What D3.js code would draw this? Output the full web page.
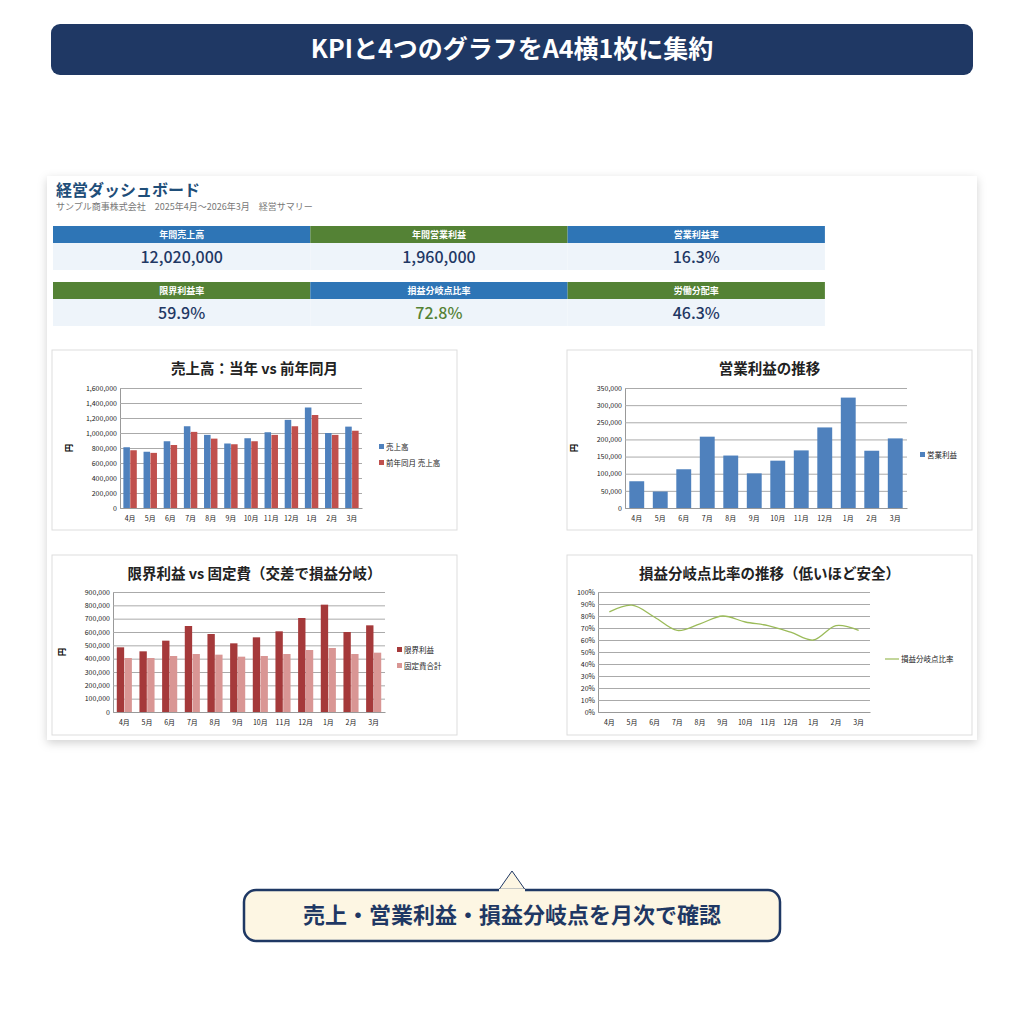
<!DOCTYPE html>
<html>
<head>
<meta charset="utf-8">
<script src="https://cdn.jsdelivr.net/npm/d3@7"></script>
<style>
body{margin:0;background:#fff;font-family:"Noto Sans CJK JP","Noto Sans",sans-serif;}
svg text{font-family:"Noto Sans CJK JP","Noto Sans",sans-serif;}
</style>
</head>
<body>
<svg id="page" width="1024" height="1024"></svg>
<script>
// data
var months = ['4月','5月','6月','7月','8月','9月','10月','11月','12月','1月','2月','3月'];
var sales = [810000,750000,890000,1090000,975000,860000,930000,1010000,1175000,1340000,1000000,1085000];
var salesPrev = [770000,735000,840000,1015000,925000,850000,890000,975000,1090000,1240000,975000,1030000];
var opProfit = [78000,48000,113000,208000,153000,101000,138000,168000,235000,322000,167000,203000];
var marginal = [485000,455000,535000,645000,585000,515000,560000,605000,705000,805000,600000,650000];
var fixedCost = [405000,405000,420000,435000,430000,415000,420000,435000,465000,480000,435000,445000];
var bepRatio = [0.835,0.89,0.79,0.68,0.735,0.80,0.75,0.72,0.665,0.60,0.72,0.68];
var kpiRow1 = [{label:'年間売上高',value:'12,020,000',head:'#2e75b6',col:'#1f3864'},
               {label:'年間営業利益',value:'1,960,000',head:'#548235',col:'#1f3864'},
               {label:'営業利益率',value:'16.3%',head:'#2e75b6',col:'#1f3864'}];
var kpiRow2 = [{label:'限界利益率',value:'59.9%',head:'#548235',col:'#1f3864'},
               {label:'損益分岐点比率',value:'72.8%',head:'#2e75b6',col:'#548235'},
               {label:'労働分配率',value:'46.3%',head:'#548235',col:'#1f3864'}];

var svg = d3.select('#page');
var defs = svg.append('defs');
var f = defs.append('filter').attr('id','sh').attr('x','-5%').attr('y','-5%').attr('width','110%').attr('height','115%');
f.append('feDropShadow').attr('dx',0).attr('dy',3).attr('stdDeviation',5).attr('flood-color','#000').attr('flood-opacity',0.18);

// banner
svg.append('rect').attr('x',51).attr('y',24).attr('width',922).attr('height',51).attr('rx',9).attr('fill','#1f3864');
svg.append('text').attr('x',512).attr('y',58).attr('text-anchor','middle').attr('fill','#fff')
  .attr('font-size',25).attr('font-weight','bold').text('KPIと4つのグラフをA4横1枚に集約');

// dashboard card
svg.append('rect').attr('x',47).attr('y',176).attr('width',930).attr('height',564).attr('fill','#fff').attr('filter','url(#sh)');
svg.append('text').attr('x',56).attr('y',196).attr('fill','#1f4e79').attr('font-size',16).attr('font-weight','bold').text('経営ダッシュボード');
svg.append('text').attr('x',56).attr('y',210).attr('fill','#777').attr('font-size',9).text('サンプル商事株式会社　2025年4月〜2026年3月　経営サマリー');

function kpi(row, y){
  var w = 257.3;
  row.forEach(function(d,i){
    var x = 53 + i*w;
    svg.append('rect').attr('x',x).attr('y',y).attr('width',w).attr('height',17).attr('fill',d.head);
    svg.append('rect').attr('x',x).attr('y',y+17).attr('width',w).attr('height',27).attr('fill','#eef4fa');
    svg.append('text').attr('x',x+w/2).attr('y',y+12).attr('text-anchor','middle').attr('fill','#fff').attr('font-size',9).attr('font-weight','bold').text(d.label);
    svg.append('text').attr('x',x+w/2).attr('y',y+37).attr('text-anchor','middle').attr('fill',d.col).attr('font-size',16).attr('font-weight',500).text(d.value);
  });
}
kpi(kpiRow1,226);
kpi(kpiRow2,282);

function panel(x,y,w,h,title){
  var g = svg.append('g').attr('transform','translate('+x+','+y+')');
  g.append('rect').attr('width',w).attr('height',h).attr('fill','#fff').attr('stroke','#ddd');
  g.append('text').attr('x',w/2).attr('y',24).attr('text-anchor','middle').attr('font-size',14.5).attr('font-weight','bold').attr('fill','#222').text(title);
  return g;
}
function axes(g, px, py, pw, ph, y, fmt, ticks, yLabel){
  var x = d3.scaleBand().domain(months).range([px,px+pw]).paddingInner(0.3).paddingOuter(0.15);
  var gy = g.append('g').attr('transform','translate('+px+',0)').call(d3.axisLeft(y).tickValues(ticks).tickFormat(fmt).tickSize(-pw).tickSizeOuter(0));
  gy.select('.domain').attr('stroke','#999');
  gy.selectAll('.tick line').attr('stroke','#aaa');
  gy.selectAll('text').attr('font-size',7).attr('fill','#222');
  var gx = g.append('g').attr('transform','translate(0,'+(py+ph)+')').call(d3.axisBottom(x).tickSize(0));
  gx.select('.domain').attr('stroke','#999');
  gx.selectAll('text').attr('font-size',7).attr('fill','#222').attr('dy','1.4em');
  if(yLabel) g.append('text').attr('transform','translate('+(px-48)+','+(py+ph/2)+') rotate(-90)').attr('text-anchor','middle').attr('font-size',8).attr('font-weight','bold').text(yLabel);
  return x;
}
function bars(g, x, y, series, colors){
  var xs = d3.scaleBand().domain(d3.range(series.length)).range([0,x.bandwidth()]).padding(0.05);
  series.forEach(function(s,si){
    g.selectAll(null).data(s).enter().append('rect')
      .attr('x',function(d,i){return x(months[i])+xs(si);})
      .attr('y',function(d){return y(d);})
      .attr('width',xs.bandwidth())
      .attr('height',function(d){return y(0)-y(d);})
      .attr('fill',colors[si]);
  });
}
function legend(g, lx, ly, names, colors, line){
  names.forEach(function(n,i){
    var yy = ly + i*16;
    if(line) g.append('line').attr('x1',lx-16).attr('x2',lx-2).attr('y1',yy).attr('y2',yy).attr('stroke',colors[i]).attr('stroke-width',1.2);
    else g.append('rect').attr('x',lx-7).attr('y',yy-3).attr('width',5).attr('height',5).attr('fill',colors[i]);
    g.append('text').attr('x',lx).attr('y',yy+3).attr('font-size',7.5).attr('fill','#222').text(n);
  });
}
var fmtN = d3.format(',');

// chart 1
var g1 = panel(52,350,405,180,'売上高：当年 vs 前年同月');
var y1 = d3.scaleLinear().domain([0,1600000]).range([158,38]);
var x1 = axes(g1,68,38,242,120,y1,fmtN,d3.range(0,1600001,200000),'円');
bars(g1,x1,y1,[sales,salesPrev],['#4f81bd','#c0504d']);
legend(g1,334,97,['売上高','前年同月 売上高'],['#4f81bd','#c0504d']);

// chart 2
var g2 = panel(567,350,405,180,'営業利益の推移');
var y2 = d3.scaleLinear().domain([0,350000]).range([158,38]);
var x2 = axes(g2,58,38,282,120,y2,fmtN,d3.range(0,350001,50000),'円');
bars(g2,x2,y2,[opProfit],['#4f81bd']);
legend(g2,360,105,['営業利益'],['#4f81bd']);

// chart 3
var g3 = panel(52,555,405,180,'限界利益 vs 固定費（交差で損益分岐）');
var y3 = d3.scaleLinear().domain([0,900000]).range([157,37]);
var x3 = axes(g3,61,37,272,120,y3,fmtN,d3.range(0,900001,100000),'円');
bars(g3,x3,y3,[marginal,fixedCost],['#a5393a','#d99694']);
legend(g3,352,95,['限界利益','固定費合計'],['#a5393a','#d99694']);

// chart 4
var g4 = panel(567,555,405,180,'損益分岐点比率の推移（低いほど安全）');
var y4 = d3.scaleLinear().domain([0,1]).range([157,37]);
var x4 = axes(g4,31,37,272,120,y4,d3.format('.0%'),d3.range(0,1.001,0.1),null);
g4.append('path').datum(bepRatio).attr('fill','none').attr('stroke','#9bbb59').attr('stroke-width',1.3)
  .attr('d',d3.line().x(function(d,i){return x4(months[i])+x4.bandwidth()/2;}).y(function(d){return y4(d);}).curve(d3.curveCatmullRom));
legend(g4,334,104,['損益分岐点比率'],['#9bbb59'],true);

// callout
svg.append('path').attr('d','M498,891 L512,871 L526,891').attr('fill','#fdf6e3').attr('stroke','#1f3864').attr('stroke-width',1);
svg.append('rect').attr('x',244).attr('y',890).attr('width',536).attr('height',51).attr('rx',12).attr('fill','#fdf6e3').attr('stroke','#1f3864').attr('stroke-width',2.5);
svg.append('rect').attr('x',499).attr('y',889).attr('width',26).attr('height',3).attr('fill','#fdf6e3');
svg.append('text').attr('x',512).attr('y',923).attr('text-anchor','middle').attr('fill','#1f3864').attr('font-size',22).attr('font-weight','bold').text('売上・営業利益・損益分岐点を月次で確認');
</script>
</body>
</html>
